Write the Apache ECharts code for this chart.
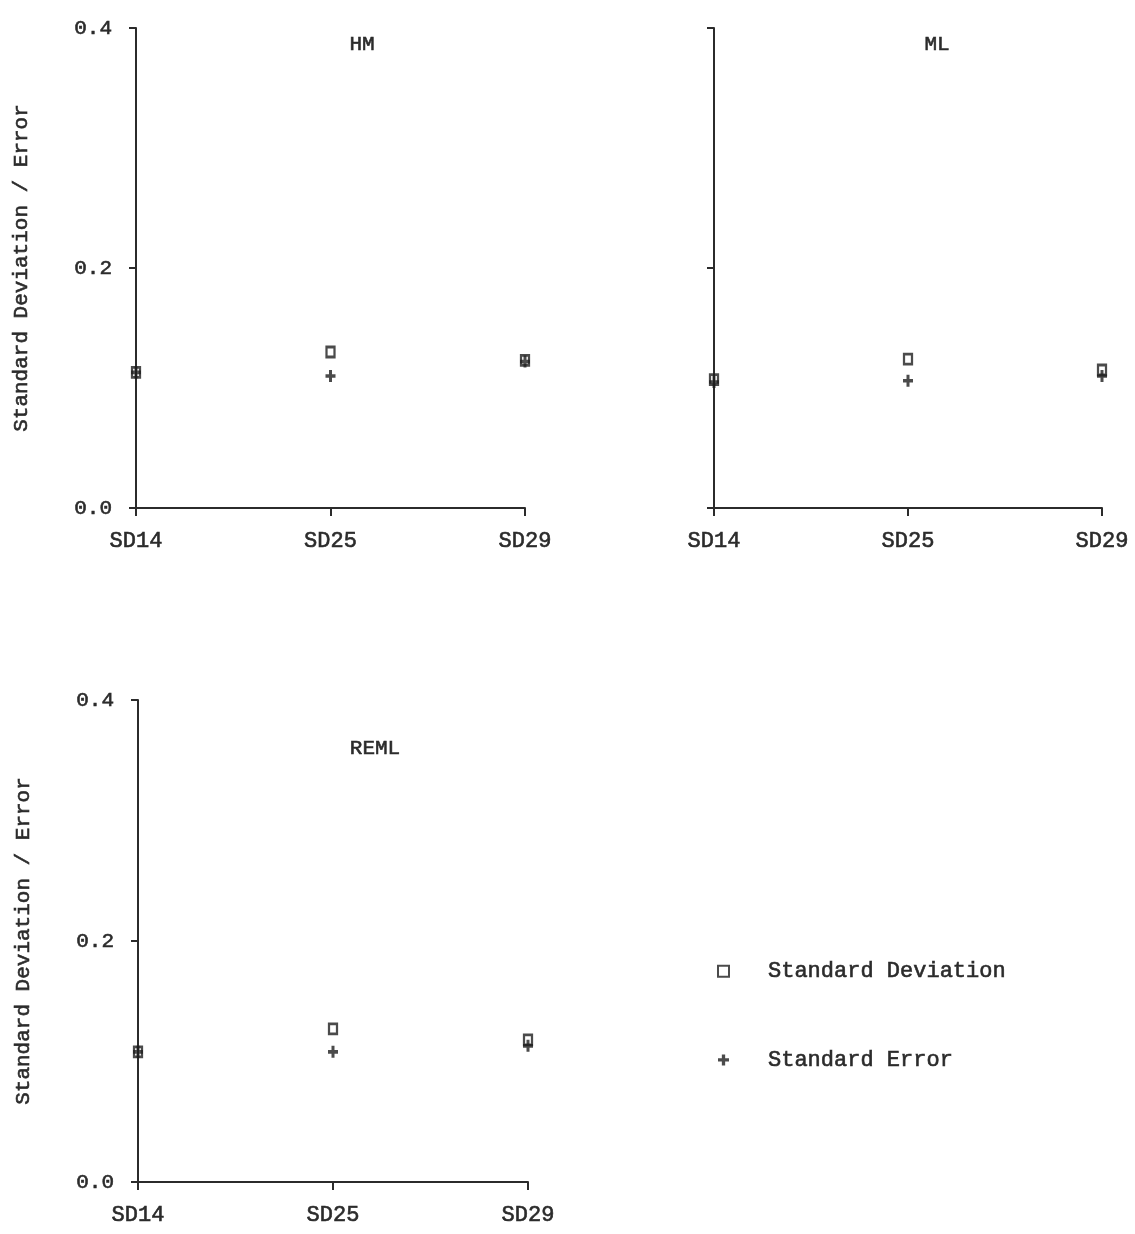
<!DOCTYPE html>
<html>
<head>
<meta charset="utf-8">
<script src="https://cdn.jsdelivr.net/npm/echarts@6/dist/echarts.min.js"></script>
<style>
  html, body { margin: 0; padding: 0; background: #fff; }
  #chart { width: 1135px; height: 1234px; }
</style>
</head>
<body>
<div id="chart"></div>
<script>
// Sample columns shared by every panel
const categories = ['SD14', 'SD25', 'SD29'];
const yTicks = [0.0, 0.2, 0.4];

// Estimation methods (one panel each)
const methods = ['HM', 'ML', 'REML'];

// Standard deviation of the estimates, per method
const sdHM   = [0.113, 0.130, 0.123];
const sdML   = [0.107, 0.124, 0.115];
const sdREML = [0.108, 0.127, 0.118];

// Standard error of the estimates, per method
const seHM   = [0.113, 0.110, 0.122];
const seML   = [0.105, 0.106, 0.110];
const seREML = [0.108, 0.108, 0.113];

const yName = 'Standard Deviation / Error';
const sdName = 'Standard Deviation';
const seName = 'Standard Error';

const FONT = '"Liberation Mono", "DejaVu Sans Mono", monospace';
const INK = '#2b2b2b';
const MARK = '#1e1e1e';
const PLUS = 'path://M3.5,0H6.5V3.5H10V6.5H6.5V10H3.5V6.5H0V3.5H3.5Z';

const grids = [
  { left: 136, top: 28, width: 389, height: 480 },
  { left: 714, top: 28, width: 388, height: 480 },
  { left: 138, top: 700, width: 390, height: 482 }
];
const showYLabels = [true, false, true];
const sdSets = [sdHM, sdML, sdREML];
const seSets = [seHM, seML, seREML];

const axisLine = { show: true, lineStyle: { color: INK, width: 2 } };
// slightly thickened strokes for a typewriter look
const textBase = { color: INK, fontFamily: FONT, textBorderColor: INK, textBorderWidth: 0.6 };

const xAxes = grids.map((g, i) => ({
  type: 'category',
  gridIndex: i,
  data: categories,
  boundaryGap: false,
  axisLine: axisLine,
  axisTick: { show: true, length: 8, lineStyle: { color: INK, width: 2 } },
  axisLabel: Object.assign({ fontSize: 22, margin: 22 }, textBase),
  splitLine: { show: false }
}));

const yAxes = grids.map((g, i) => ({
  type: 'value',
  gridIndex: i,
  min: 0,
  max: 0.4,
  interval: 0.2,
  axisLine: axisLine,
  axisTick: { show: true, length: 7, lineStyle: { color: INK, width: 2 } },
  axisLabel: Object.assign({
    show: showYLabels[i],
    fontSize: 21, margin: 24,
    formatter: v => yTicks.includes(Math.round(v * 10) / 10) ? v.toFixed(1) : ''
  }, textBase),
  splitLine: { show: false },
  name: showYLabels[i] ? yName : '',
  nameLocation: 'middle',
  nameRotate: 90,
  nameGap: 104,
  nameTextStyle: Object.assign({ fontSize: 21 }, textBase)
}));

const series = [];
grids.forEach((g, i) => {
  series.push({
    name: sdName,
    type: 'scatter',
    xAxisIndex: i, yAxisIndex: i,
    data: sdSets[i],
    symbol: 'rect',
    symbolSize: [8, 10],
    itemStyle: { color: 'rgba(255,255,255,0)', borderColor: MARK, borderWidth: 2.5 },
    z: 3
  });
  series.push({
    name: seName,
    type: 'scatter',
    xAxisIndex: i, yAxisIndex: i,
    data: seSets[i],
    symbol: PLUS,
    symbolSize: [10, 12],
    itemStyle: { color: MARK },
    z: 4
  });
});

const titleCenters = [[357, 29], [932, 29], [370, 733]];
const titles = methods.map((m, i) => ({
  text: m,
  left: titleCenters[i][0],
  top: titleCenters[i][1],
  textAlign: 'center',
  textStyle: Object.assign({ fontSize: 21, fontWeight: 'normal' }, textBase)
}));

const chart = echarts.init(document.getElementById('chart'), null, { renderer: 'canvas' });
chart.setOption({
  backgroundColor: '#ffffff',
  animation: false,
  title: titles,
  grid: grids,
  xAxis: xAxes,
  yAxis: yAxes,
  legend: {
    orient: 'vertical',
    left: 712,
    top: 955,
    itemGap: 66,
    itemWidth: 11,
    itemHeight: 11,
    selectedMode: false,
    textStyle: Object.assign({ fontSize: 22, padding: [0, 0, 0, 34] }, textBase),
    data: [
      { name: sdName, icon: 'rect', itemStyle: { color: 'rgba(255,255,255,0)', borderColor: MARK, borderWidth: 2 } },
      { name: seName, icon: PLUS, itemStyle: { color: MARK } }
    ]
  },
  series: series
});
</script>
</body>
</html>
